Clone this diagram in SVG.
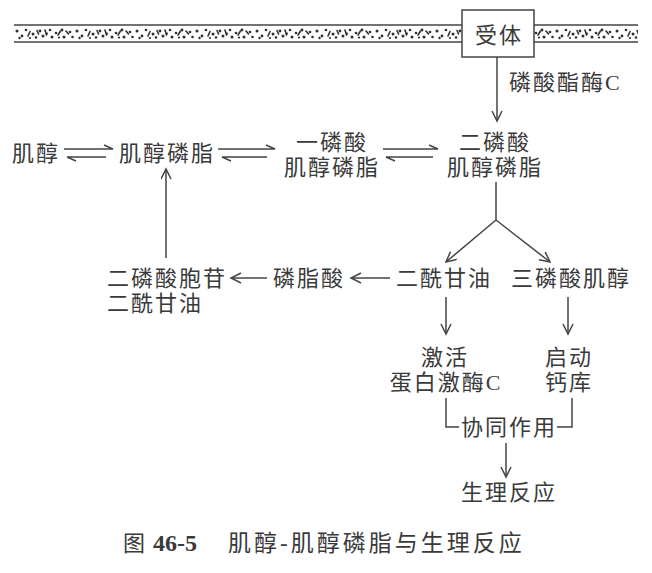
<svg xmlns="http://www.w3.org/2000/svg" width="652" height="573" viewBox="0 0 652 573">
  <style>
    .t { font-family: "Liberation Serif", "Noto Sans CJK SC", serif; font-size: 22px; fill: #3a3a3a; letter-spacing: 2px; }
    .m { text-anchor: middle; }
    .ln { stroke: #444; stroke-width: 1.5; fill: none; }
    .ar { stroke: #444; stroke-width: 1.5; fill: none; marker-end: url(#arr); }
    .mem { stroke: #444; stroke-width: 1.7; }
  </style>
  <defs>
    <marker id="arr" markerWidth="14" markerHeight="12" refX="11" refY="5.5" orient="auto" markerUnits="userSpaceOnUse">
      <path d="M1,0.5 L11,5.5 L1,10.5" fill="none" stroke="#444" stroke-width="1.5"/>
    </marker>
    <pattern id="dots" x="14" y="27" width="60" height="13" patternUnits="userSpaceOnUse">
      <g fill="#2e2e2e">
        <circle cx="3" cy="4" r="1.5"/><circle cx="8" cy="9" r="1.4"/><circle cx="12" cy="3" r="1.3"/>
        <circle cx="19" cy="7" r="1.5"/><circle cx="22" cy="10.5" r="1.3"/><circle cx="26" cy="4" r="1.4"/>
        <circle cx="29" cy="9" r="1.5"/><circle cx="36" cy="3" r="1.3"/><circle cx="38" cy="10" r="1.5"/>
        <circle cx="42" cy="6" r="1.3"/><circle cx="48" cy="3" r="1.4"/><circle cx="50" cy="10" r="1.5"/>
        <circle cx="56" cy="5" r="1.3"/><circle cx="58.5" cy="10" r="1.3"/><circle cx="5.5" cy="11" r="1.2"/>
        <circle cx="16" cy="11" r="1.1"/><circle cx="33" cy="6.5" r="1.1"/><circle cx="45" cy="10.5" r="1.1"/>
      </g>
      <g stroke="#2e2e2e" stroke-width="1.6" stroke-linecap="round">
        <path d="M14,9 L16,4.5"/><path d="M31,3 L32.5,8"/><path d="M44,8 L46.5,4"/><path d="M52,4 L54.5,7"/><path d="M23,3.5 L24.5,7"/>
      </g>
    </pattern>
  </defs>
  <rect width="652" height="573" fill="#ffffff"/>

  <g id="membrane">
    <rect x="14" y="26" width="448" height="15" fill="url(#dots)"/>
    <rect x="534" y="26" width="104" height="15" fill="url(#dots)"/>
    <line class="mem" x1="14" y1="25" x2="462" y2="25"/>
    <line class="mem" x1="14" y1="42" x2="462" y2="42"/>
    <line class="mem" x1="534" y1="25" x2="638" y2="25"/>
    <line class="mem" x1="534" y1="42" x2="638" y2="42"/>
  </g>

  <g id="receptor">
    <rect x="462" y="10" width="72" height="47" fill="#fff" stroke="#444" stroke-width="1.5"/>
    <text class="t m" x="499" y="43">受体</text>
  </g>

  <g id="connectors">
    <line class="ar" x1="497" y1="57" x2="497" y2="121"/>
    <path class="ln" d="M64,149 H113 L104,145 M67,157 H106 M67,157 L76,161"/>
    <path class="ln" d="M218,149 H275 L266,145 M222,157 H267 M222,157 L231,161"/>
    <path class="ln" d="M383,149 H438 L429,145 M386,157 H433 M386,157 L395,161"/>
    <line class="ln" x1="496" y1="182" x2="496" y2="220"/>
    <line class="ar" x1="496" y1="220" x2="446" y2="262"/>
    <line class="ar" x1="496" y1="220" x2="550" y2="262"/>
    <line class="ar" x1="390" y1="278" x2="351" y2="278"/>
    <line class="ar" x1="267" y1="278" x2="231" y2="278"/>
    <line class="ar" x1="166" y1="258" x2="166" y2="169"/>
    <line class="ar" x1="446" y1="297" x2="446" y2="334"/>
    <line class="ar" x1="568" y1="297" x2="568" y2="334"/>
    <path class="ln" d="M446,398 V427 H459 M557,427 H572 V398"/>
    <line class="ar" x1="506" y1="443" x2="506" y2="477"/>
  </g>

  <g id="plc-label"><text class="t" x="509" y="90">磷酸酯酶C</text></g>
  <g id="inositol"><text class="t m" x="36" y="161">肌醇</text></g>
  <g id="pi"><text class="t m" x="167" y="161">肌醇磷脂</text></g>
  <g id="pip"><text class="t m" x="332" y="150">一磷酸</text><text class="t m" x="332" y="175">肌醇磷脂</text></g>
  <g id="pip2"><text class="t m" x="495" y="150">二磷酸</text><text class="t m" x="495" y="175">肌醇磷脂</text></g>
  <g id="cdp-dag"><text class="t" x="107" y="286">二磷酸胞苷</text><text class="t" x="107" y="311">二酰甘油</text></g>
  <g id="pa"><text class="t m" x="309" y="286">磷脂酸</text></g>
  <g id="dag"><text class="t m" x="444" y="286">二酰甘油</text></g>
  <g id="ip3"><text class="t m" x="571" y="286">三磷酸肌醇</text></g>
  <g id="pkc"><text class="t m" x="445" y="365">激活</text><text class="t m" x="446" y="390">蛋白激酶C</text></g>
  <g id="ca"><text class="t m" x="569" y="365">启动</text><text class="t m" x="569" y="390">钙库</text></g>
  <g id="synergy"><text class="t m" x="509" y="435">协同作用</text></g>
  <g id="response"><text class="t m" x="509" y="500">生理反应</text></g>

  <g id="caption">
    <text class="t" x="123" y="551" style="letter-spacing:0">图</text>
    <text x="153" y="551" font-family="Liberation Serif, serif" font-weight="bold" font-size="24" fill="#3a3a3a">46-5</text>
    <text class="t" x="228" y="551" style="font-size:23px;letter-spacing:3px">肌醇-肌醇磷脂与生理反应</text>
  </g>
</svg>
